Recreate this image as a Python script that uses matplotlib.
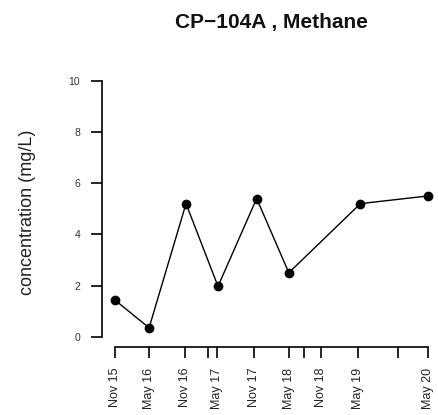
import pandas as pd
import numpy as np
import matplotlib
matplotlib.use('Agg')
import matplotlib.pyplot as plt
import matplotlib.dates as mdates

# sampling dates and methane concentration (mg/L)
sample_dates = ['2015-11-15', '2016-05-12', '2016-11-22', '2017-05-09',
                '2017-11-28', '2018-05-16', '2019-05-27', '2020-05-16']
methane = [1.43, 0.35, 5.2, 1.97, 5.4, 2.5, 5.2, 5.5]

# tick dates along x axis (unlabelled ones are dates with no result)
tick_dates = ['2015-11-15', '2016-05-12', '2016-11-15', '2017-03-20', '2017-05-05',
              '2017-11-15', '2018-05-15', '2018-08-03', '2018-11-03', '2019-05-15',
              '2019-12-10', '2020-05-16']
tick_labels = ['Nov 15', 'May 16', 'Nov 16', '', 'May 17', 'Nov 17', 'May 18', '',
               'Nov 18', 'May 19', '', 'May 20']

yticks = [0, 2, 4, 6, 8, 10]

x = mdates.date2num(pd.to_datetime(sample_dates))
xt = mdates.date2num(pd.to_datetime(tick_dates))

fig = plt.figure(figsize=(4.39, 4.15), dpi=100)
plt.rcParams['font.family'] = ['Liberation Sans', 'DejaVu Sans']
# plot region (R style, 4% padding each side)
ax = fig.add_axes([102.5 / 439, 1 - 347 / 415, 338 / 439, (347 - 70.5) / 415])

ax.plot(x, methane, color='k', linewidth=1.0, marker='o', markersize=6,
        markerfacecolor='k', markeredgecolor='k')

pad_x = (xt[-1] - xt[0]) * 0.04
ax.set_xlim(xt[0] - pad_x, xt[-1] + pad_x)
ax.set_ylim(-0.4, 10.4)

ax.spines['top'].set_visible(False)
ax.spines['right'].set_visible(False)
ax.spines['left'].set_bounds(0, 10)
ax.spines['bottom'].set_bounds(xt[0], xt[-1])
for s in ['left', 'bottom']:
    ax.spines[s].set_linewidth(1.2)

ax.set_yticks(yticks)
ax.set_yticklabels([str(v) for v in yticks], fontsize=7.5, color='#333333')
ax.set_xticks(xt)
ax.set_xticklabels(tick_labels, rotation=90, fontsize=9, color='#222222', va='top')
ax.tick_params(axis='both', direction='out', length=8, width=1.2)
ax.tick_params(axis='y', pad=8)
ax.tick_params(axis='x', pad=7)

fig.text(28 / 439, 1 - 212 / 415, 'concentration (mg/L)', fontsize=13, rotation=90,
         ha='center', va='center', color='#222222')
fig.text(271.5 / 439, 1 - 22.5 / 415, 'CP\u2212104A , Methane', fontsize=15,
         fontweight='bold', ha='center', va='center', color='#111111')

plt.savefig('out.png', dpi=100)
